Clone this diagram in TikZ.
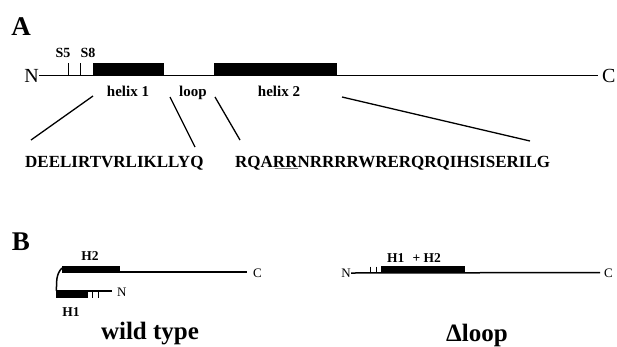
\documentclass[tikz,border=0pt]{standalone}
\usepackage{fontspec}
\setmainfont{Liberation Serif}
\begin{document}
\begin{tikzpicture}[x=1bp,y=-1bp]
\useasboundingbox (0,0) rectangle (617,346);
\tikzset{
  chain/.style={line width=1.8bp},
  thinchain/.style={line width=1.5bp},
  tick/.style={line width=0.9bp},
  conn/.style={line width=1.3bp},
  bar/.style={fill=black},
  panellbl/.style={inner sep=0, font=\fontsize{27bp}{30bp}\selectfont\bfseries},
  endbig/.style={inner sep=0, font=\fontsize{20bp}{24bp}\selectfont},
  endsmall/.style={inner sep=0, font=\fontsize{13bp}{15bp}\selectfont},
  lbl/.style={inner sep=0, anchor=base, font=\fontsize{15bp}{18bp}\selectfont\bfseries},
  slbl/.style={inner sep=0, anchor=base, font=\fontsize{14bp}{16bp}\selectfont\bfseries},
  hlbl/.style={inner sep=0, anchor=base, font=\fontsize{13.5bp}{16bp}\selectfont\bfseries},
  seq/.style={inner sep=0, anchor=base west, font=\fontsize{17bp}{20bp}\selectfont\bfseries},
  caption/.style={inner sep=0, anchor=base, font=\fontsize{25bp}{28bp}\selectfont\bfseries},
}
% ---------- Panel A ----------
\node[panellbl] (pA) at (21,27) {A};
\node[endbig, anchor=east] (NA) at (39,75.5) {N};
\node[endbig, anchor=west] (CA) at (602,75.5) {C};
\coordinate (cAend) at (598,75.5);
\draw[chain] (NA.east) -- (cAend);
\draw[tick] (68,63) -- (68,75.5);
\draw[tick] (80.5,63) -- (80.5,75.5);
\fill[bar] (93,63) rectangle (164,76.4);
\fill[bar] (214,63) rectangle (337,76.4);
\node[slbl] (s5) at (63,57) {S5};
\node[slbl] (s8) at (88,57) {S8};
\node[lbl] (h1) at (128,96) {helix 1};
\node[lbl] (lp) at (193,96) {loop};
\node[lbl] (h2) at (279,96) {helix 2};
\node[seq] (seq1) at (25,167) {DEELIRTVRLIKLLYQ};
\node[seq] (seq2) at (235,167) {RQARR\llap{\raisebox{-2bp}{\color{gray}\rule{23bp}{0.9bp}}}NRRRRWRERQRQIHSISERILG};
\coordinate (a1) at (93,96);
\coordinate (b1) at (31,140);
\coordinate (a2) at (170,97);
\coordinate (b2) at (195,147);
\coordinate (a3) at (215,97);
\coordinate (b3) at (240,140);
\coordinate (a4) at (342,97);
\coordinate (b4) at (530,141);
\draw[conn] (a1) -- (b1);
\draw[conn] (a2) -- (b2);
\draw[conn] (a3) -- (b3);
\draw[conn] (a4) -- (b4);
% ---------- Panel B ----------
\node[panellbl] (pB) at (21,242) {B};
% wild type
\node[hlbl] (H2) at (90,260) {H2};
\fill[bar] (62,266) rectangle (120,272.7);
\node[endsmall, anchor=west] (CB1) at (253,273) {C};
\coordinate (cB1) at (247,272);
\draw[thinchain] (120,272) -- (cB1);
\draw[thinchain] (62,268) .. controls (56,274) and (56.5,282) .. (56.5,291);
\fill[bar] (56,290.3) rectangle (88,298);
\node[endsmall, anchor=west] (NB1) at (117,292) {N};
\coordinate (nB1) at (112,291);
\draw[thinchain] (88,291) -- (nB1);
\draw[tick] (92,291) -- (92,297.5);
\draw[tick] (98,291) -- (98,297.5);
\node[hlbl] (H1) at (71,316) {H1};
\node[caption] (wt) at (150,339) {wild type};
% delta loop
\node[endsmall, anchor=east] (NB2) at (351,273) {N};
\node[endsmall, anchor=west] (CB2) at (604,273) {C};
\coordinate (cB2) at (600,272.5);
\draw[thinchain] (NB2.east) -- (cB2);
\draw[tick] (370,266.5) -- (370,272.5);
\draw[tick] (376,266.5) -- (376,272.5);
\fill[bar] (381,266) rectangle (465,273);
\node[hlbl] (H12) at (414,262) {H1\hspace{0.6em}+ H2};
\node[caption] (dl) at (477,341) {Δloop};
\end{tikzpicture}
\end{document}
